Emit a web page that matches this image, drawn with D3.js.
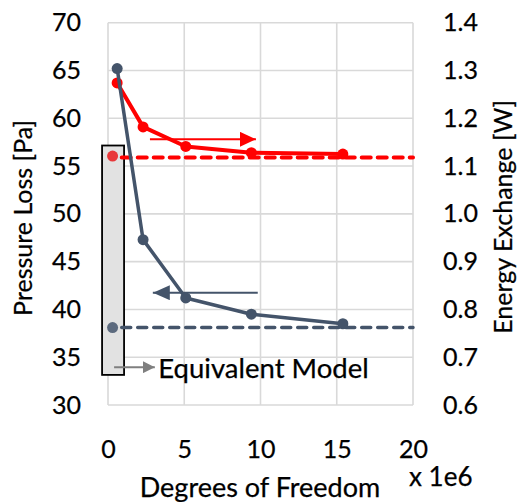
<!DOCTYPE html>
<html>
<head>
<meta charset="utf-8">
<script src="https://cdn.jsdelivr.net/npm/d3@7"></script>
<style>
  html, body { margin: 0; padding: 0; background: #fff; }
  svg { display: block; font-family: Lato, "Open Sans", sans-serif; }
  text { stroke: #000; stroke-width: 0.25px; }
</style>
</head>
<body>
<svg id="chart" width="519" height="502"></svg>
<script>
// data
const dofFine = [0.6, 2.3, 5.1, 9.4, 15.4];          // x 1e6
const pressureLoss = [65.2, 47.3, 41.2, 39.5, 38.5];  // Pa, left axis
const energyExchange = [1.274, 1.182, 1.141, 1.128, 1.125]; // W, right axis

const eqDof = 0.3;
const eqPressure = 38.1;
const eqEnergy = 1.118;

const xTicks = [0, 5, 10, 15, 20];
const leftTicks = [30, 35, 40, 45, 50, 55, 60, 65, 70];
const rightTicks = [0.6, 0.7, 0.8, 0.9, 1.0, 1.1, 1.2, 1.3, 1.4];

const svg = d3.select("#chart");

const x = d3.scaleLinear().domain([0, 20]).range([108, 413]);
const yL = d3.scaleLinear().domain([30, 70]).range([405, 22.7]);
const yR = d3.scaleLinear().domain([0.6, 1.4]).range([405, 22.7]);

const blue = "#44546a";
const red = "#ff0000";
const grid = "#d9d9d9";

// grid
svg.append("g").selectAll("line").data(xTicks).join("line")
    .attr("x1", d => x(d)).attr("x2", d => x(d))
    .attr("y1", yL(70)).attr("y2", yL(30))
    .attr("stroke", grid).attr("stroke-width", 1.6);
svg.append("g").selectAll("line").data(leftTicks).join("line")
    .attr("x1", x(0)).attr("x2", x(20))
    .attr("y1", d => yL(d)).attr("y2", d => yL(d))
    .attr("stroke", grid).attr("stroke-width", 1.6);

// axes (labels only)
const leftAxis = svg.append("g").attr("transform", `translate(${x(0)},0)`)
    .call(d3.axisLeft(yL).tickValues(leftTicks).tickSize(0).tickPadding(27));
const rightAxis = svg.append("g").attr("transform", `translate(${x(20)},0)`)
    .call(d3.axisRight(yR).tickValues(rightTicks).tickSize(0).tickPadding(30)
        .tickFormat(d3.format(".1f")));
const bottomAxis = svg.append("g").attr("transform", `translate(0,${yL(30)})`)
    .call(d3.axisBottom(x).tickValues(xTicks).tickSize(0).tickPadding(35));
[leftAxis, rightAxis, bottomAxis].forEach(g => {
    g.select(".domain").remove();
    g.selectAll("text").attr("font-size", 25).attr("fill", "#000")
        .attr("font-family", "Lato, 'Open Sans', sans-serif");
});

// axis titles
svg.append("text")
    .attr("transform", `translate(32,${(yL(30) + yL(70)) / 2 + 4}) rotate(-90)`)
    .attr("text-anchor", "middle").attr("font-size", 25)
    .text("Pressure Loss [Pa]");
svg.append("text")
    .attr("transform", `translate(512,${(yL(30) + yL(70)) / 2 + 3}) rotate(-90)`)
    .attr("text-anchor", "middle").attr("font-size", 25)
    .text("Energy Exchange [W]");
svg.append("text")
    .attr("x", 260).attr("y", 497)
    .attr("text-anchor", "middle").attr("font-size", 27)
    .text("Degrees of Freedom");
svg.append("text")
    .attr("x", 409).attr("y", 486)
    .attr("font-size", 26)
    .text("x 1e6");

// equivalent model box
svg.append("rect")
    .attr("x", x(eqDof) - 10.5).attr("y", yL(57.15))
    .attr("width", 22).attr("height", yL(33.15) - yL(57.15))
    .attr("fill", "#e2e2e2").attr("stroke", "#000").attr("stroke-width", 1.8);

// reference dashed lines
svg.append("line")
    .attr("x1", x(0.9)).attr("x2", x(20))
    .attr("y1", yR(eqEnergy)).attr("y2", yR(eqEnergy))
    .attr("stroke", red).attr("stroke-width", 4)
    .attr("stroke-dasharray", "9,7").attr("stroke-linecap", "round");
svg.append("line")
    .attr("x1", x(0.9)).attr("x2", x(20))
    .attr("y1", yL(eqPressure)).attr("y2", yL(eqPressure))
    .attr("stroke", blue).attr("stroke-width", 3.5)
    .attr("stroke-dasharray", "9,7").attr("stroke-linecap", "round");

// equivalent points
svg.append("circle").attr("cx", x(eqDof)).attr("cy", yR(1.121)).attr("r", 5.5)
    .attr("fill", "#e8383a");
svg.append("circle").attr("cx", x(eqDof)).attr("cy", yL(eqPressure)).attr("r", 5.5)
    .attr("fill", "#5c6a7e");

// arrows
const defs = svg.append("defs");
function marker(id, color, w, h) {
    defs.append("marker").attr("id", id)
        .attr("viewBox", `0 0 ${w} ${h}`).attr("refX", w).attr("refY", h / 2)
        .attr("markerWidth", w).attr("markerHeight", h)
        .attr("markerUnits", "userSpaceOnUse").attr("orient", "auto")
        .append("path").attr("d", `M0,0L${w},${h / 2}L0,${h}Z`).attr("fill", color);
}
marker("arRed", red, 16, 15);
marker("arBlue", blue, 17, 15);
marker("arGray", "#7f7f7f", 12, 12);

svg.append("line")
    .attr("x1", x(2.75)).attr("x2", x(9.7))
    .attr("y1", yR(1.156)).attr("y2", yR(1.156))
    .attr("stroke", red).attr("stroke-width", 2)
    .attr("marker-end", "url(#arRed)");
svg.append("line")
    .attr("x1", x(9.82)).attr("x2", x(2.94))
    .attr("y1", yL(41.75)).attr("y2", yL(41.75))
    .attr("stroke", blue).attr("stroke-width", 2)
    .attr("marker-end", "url(#arBlue)");
svg.append("line")
    .attr("x1", x(0.4)).attr("x2", x(3.07))
    .attr("y1", yL(33.95)).attr("y2", yL(33.95))
    .attr("stroke", "#7f7f7f").attr("stroke-width", 2)
    .attr("marker-end", "url(#arGray)");
svg.append("text")
    .attr("x", x(3.3)).attr("y", yL(33.95) + 11)
    .attr("font-size", 27.5).text("Equivalent Model");

// series
const pressurePts = dofFine.map((d, i) => [d, pressureLoss[i]]);
const energyPts = dofFine.map((d, i) => [d, energyExchange[i]]);

svg.append("path").datum(energyPts)
    .attr("d", d3.line().x(d => x(d[0])).y(d => yR(d[1])))
    .attr("fill", "none").attr("stroke", red).attr("stroke-width", 4)
    .attr("stroke-linejoin", "round");
svg.append("g").selectAll("circle").data(energyPts).join("circle")
    .attr("cx", d => x(d[0])).attr("cy", d => yR(d[1])).attr("r", 5.5)
    .attr("fill", red);

svg.append("path").datum(pressurePts)
    .attr("d", d3.line().x(d => x(d[0])).y(d => yL(d[1])))
    .attr("fill", "none").attr("stroke", blue).attr("stroke-width", 3.5)
    .attr("stroke-linejoin", "round");
svg.append("g").selectAll("circle").data(pressurePts).join("circle")
    .attr("cx", d => x(d[0])).attr("cy", d => yL(d[1])).attr("r", 5.5)
    .attr("fill", blue);
</script>
</body>
</html>
